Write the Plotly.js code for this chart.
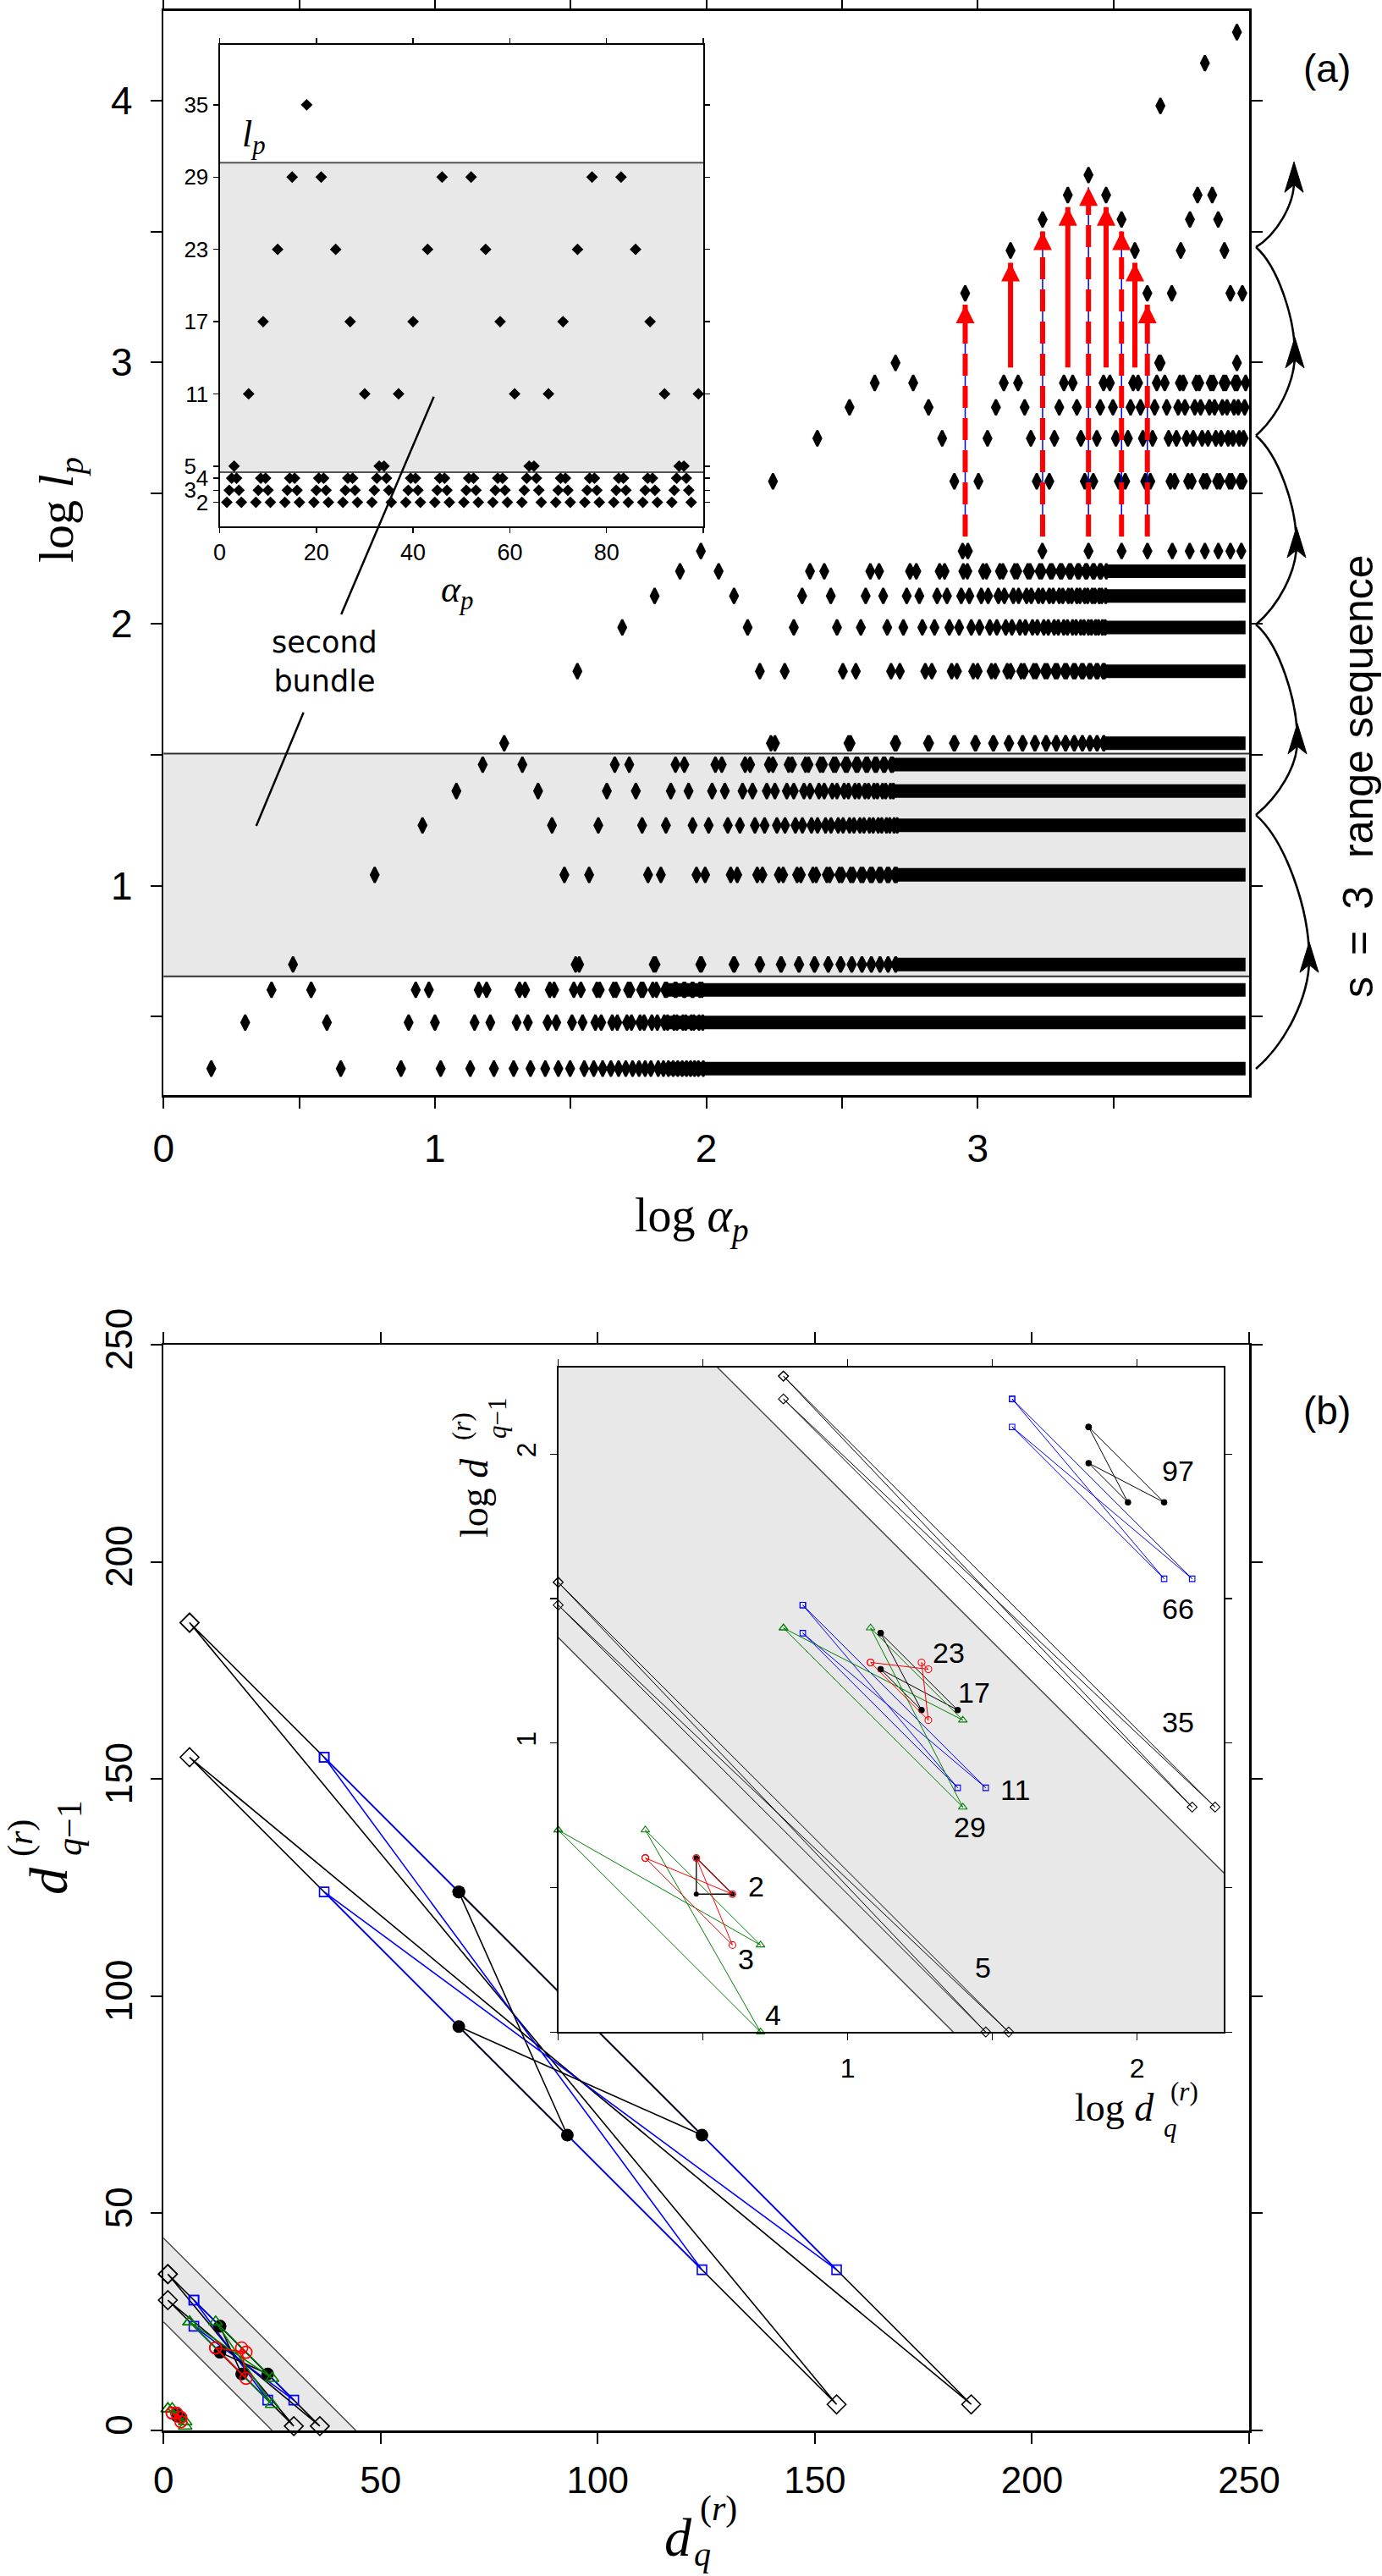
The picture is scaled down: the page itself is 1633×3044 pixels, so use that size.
<!DOCTYPE html>
<html><head><meta charset="utf-8">
<script src="https://cdn.plot.ly/plotly-3.0.1.min.js"></script>
<style>body{margin:0;background:#fff}</style>
</head><body>
<div id="chart" style="width:1633px;height:3044px"></div>
<script>
// ---------------- Panel (a): positions alpha_p of the diamonds for each level l_p ----------------
const alpha_l2 = [1.5,4.5,7.5,10.5,13.5,16.5,19.5,22.5,25.5,28.5,31.5,35.5,38.5,41.5,44.5,47.5,50.5,53.5,56.5,59.5,62.5,66.5,69.5,72.5,75.5,78.5,81.5,84.5,87.5,90.5,93.5,97.5];
const alpha_l3 = [2,4,8,10,14,16,20,22,26,28,32,35,39,41,45,47,51,53,57,59,63,66,70,72,76,78,82,84,88,90,94,97];
const alpha_l4 = [2.5,3.5,8.5,9.5,14.5,15.5,20.5,21.5,26.5,27.5,32.5,34.5,39.5,40.5,45.5,46.5,51.5,52.5,57.5,58.5,63.5,65.5,70.5,71.5,76.5,77.5,82.5,83.5,88.5,89.5,94.5,96.5];
const alpha_l5 = [3,33,34,64,65,95,96,126,127,157,158,188,189,219,220,250,251,281,282,312,313,343,344,374,375,405,406,436,437,467,468,498,499];
const alpha_l11 = [6,30,37,61,68,92,99,123,130,154,161,185,192,216,223,247,254,278,285,309,316,340,347,371,378,402,409,433,440,464,471,495,502];
const alpha_l17 = [9,27,40,58,71,89,102,120,133,151,164,182,195,213,226,244,257,275,288,306,319,337,350,368,381,399,412,430,443,461,474,492,505];
const alpha_l23 = [12,24,43,55,74,86,105,117,136,148,167,179,198,210,229,241,260,272,291,303,322,334,353,365,384,396,415,427,446,458,477,489];
const alpha_l29 = [15,21,46,52,77,83,108,114,139,145,170,176,201,207,232,238,263,269,294,300,325,331,356,362,387,393,418,424,449,455,480,486];
const alpha_l35 = [18,173,179,334,340,495,501,656,662,817,823,978,984,1139,1145,1300,1306,1461,1467,1622,1628,1783,1789,1944,1950,2105,2111,2266,2272,2427,2433,2588,2594,2749,2755,2910,2916];
const alpha_l66 = [33.5,157.5,194.5,318.5,355.5,479.5,516.5,640.5,677.5,801.5,838.5,962.5,999.5,1123.5,1160.5,1284.5,1321.5,1445.5,1482.5,1606.5,1643.5,1767.5,1804.5,1928.5,1965.5,2089.5,2126.5,2250.5,2287.5,2411.5,2448.5,2572.5,2609.5,2733.5,2770.5,2894.5,2931.5];
const alpha_l97 = [49,142,210,303,371,464,532,625,693,786,854,947,1015,1108,1176,1269,1337,1430,1498,1591,1659,1752,1820,1913,1981,2074,2142,2235,2303,2396,2464,2557,2625,2718,2786,2879,2947];
const alpha_l128 = [64.5,126.5,225.5,287.5,386.5,448.5,547.5,609.5,708.5,770.5,869.5,931.5,1030.5,1092.5,1191.5,1253.5,1352.5,1414.5,1513.5,1575.5,1674.5,1736.5,1835.5,1897.5,1996.5,2058.5,2157.5,2219.5,2318.5,2380.5,2479.5,2541.5,2640.5,2702.5,2801.5,2863.5,2962.5];
const alpha_l159 = [80,111,241,272,402,433,563,594,724,755,885,916,1046,1077,1207,1238,1368,1399,1529,1560,1690,1721,1851,1882,2012,2043,2173,2204,2334,2365,2495,2526,2656,2687,2817,2848,2978];
const alpha_l190 = [95.5,880,920,1730,2560,3390,4220,5210,6040,6870,7700,8530,9360];
const alpha_l351 = [176,820,1006,1650,1836,2480,2666,3310,3496,4140,4326,5130,5316,5960,6146,6790,6976,7620,7806,8450,8636,9280,9466];
const alpha_l512 = [256.5,739.5,1086.5,1569.5,1916.5,2399.5,2746.5,3229.5,3576.5,4059.5,4406.5,5049.5,5396.5,5879.5,6226.5,6709.5,7056.5,7539.5,7886.5,8369.5,8716.5,9199.5,9546.5];
const alpha_l673 = [337,659,1167,1489,1997,2319,2827,3149,3657,3979,4487,4969,5477,5799,6307,6629,7137,7459,7967,8289,8797,9119,9627];
const alpha_l834 = [417.5,578.5,1247.5,1408.5,2077.5,2238.5,2907.5,3068.5,3737.5,3898.5,4567.5,4888.5,5557.5,5718.5,6387.5,6548.5,7217.5,7378.5,8047.5,8208.5,8877.5,9038.5,9707.5];
const alpha_l995 = [498,4660,4720,9016];
const alpha_l1835 = [899,4217,5190,8531,9441];
const alpha_l2675 = [1321,3793,5598,8110];
const alpha_l3515 = [1734,3388,6053,7691];
const alpha_l4355 = [2148,2972,6457,7311];
const alpha_l5195 = [2559];
const alpha_l9550 = [4710];
const alpha_l13905 = [6871];
const alpha_l18260 = [9016];

const levels = [2,3,4,5,11,17,23,29,35,66,97,128,159,190,351,512,673,834,995,1835,2675,3515,4355,5195,9550,13905,18260];
const levelAlphas = [alpha_l2,alpha_l3,alpha_l4,alpha_l5,alpha_l11,alpha_l17,alpha_l23,alpha_l29,alpha_l35,alpha_l66,alpha_l97,alpha_l128,alpha_l159,alpha_l190,alpha_l351,alpha_l512,alpha_l673,alpha_l834,alpha_l995,alpha_l1835,alpha_l2675,alpha_l3515,alpha_l4355,alpha_l5195,alpha_l9550,alpha_l13905,alpha_l18260];

// dense parts of the rows (merged diamonds)
const bandLevel = [2,3,4,5,11,17,23,29,35,66,97,128,159];
const bandStart = [72,72,72,499,502,505,489,486,2916,2931,2947,2962,2978];
const bandEnd   = [9700,9700,9700,9700,9700,9700,9700,9700,9700,9700,9700,9700,9700];

// shaded "second bundle" band
const shadeMain = [4.5, 32];
const shadeInset = [4.5, 30.2];

// red arrows
const dashAlpha = [899,1734,2559,3388,4217];
const dashFrom  = [216,216,216,216,216];
const dashTo    = [1660,3165,4670,3165,1660];
const solidAlpha = [1321,2148,2972,3793];
const solidFrom  = [955,955,955,955];
const solidTo    = [2400,3920,3920,2400];

// range-sequence braces (log l positions)
const braceCusp = [0.30,1.27,1.998,2.72,3.44];
const braceTip  = [0.785,1.62,2.37,3.095,3.766];

// ---------------- Panel (b): (d_q, d_{q-1}) cycles ----------------
const diaBigX = [6,155,6,186,6],   diaBigY = [186,6,155,6,186];
const sqBigX  = [37,124,37,155,37], sqBigY  = [155,37,124,37,155];
const cirBigX = [68,93,68,124,68],  cirBigY = [124,68,93,68,124];
const diaMidX = [1,30,1,36,1],      diaMidY = [36,1,30,1,36];
const sqMidX  = [7,24,7,30,7],      sqMidY  = [30,7,24,7,30];
const cirMidX = [13,18,13,24,13],   cirMidY = [24,13,18,13,24];
const redMidX = [12,19,18,19,12],   redMidY = [19,12,19,18,19];
const grnMidX = [6,25,12,25,6],     grnMidY = [25,6,25,12,25];
const cirSmX  = [3,3,4,3],          cirSmY  = [4,3,3,4];
const redSmX  = [2,4,3,4,2],        redSmY  = [4,2,4,3,4];
const grnSmX  = [1,5,2,5,1],        grnSmY  = [5,1,5,2,5];
const bandB   = [25, 44.3];          // linear band x+y in main (b)
const bandBlog = [1.365, 2.85];      // log band in inset (b)
const insetLabels = ['97','66','35','23','17','11','29','5','2','3','4'];
const insetLabelPos = [[1392,1738],[1392,1901],[1392,2035],[1121,1953],[1151,2000],[1199,2115],[1146,2159],[1161,2325],[893,2229],[881,2315],[914,2381]];

// ---------------- geometry ----------------
const W = 1633, H = 3044;
const A_X=[193.2,1476], A_Y=[12.5,1294];
const AI_X=[259.5,831], AI_Y=[52.7,622];
const B_X=[193.2,1476], B_Y=[1589,2872];
const BI_X=[659.6,1446.2], BI_Y=[1615.7,2401.2];
const dx = a => [a[0]/W, a[1]/W];
const dy = a => [1-a[1]/H, 1-a[0]/H];
const SANS = 'Liberation Sans, Arial, sans-serif';
const SERIF = 'Liberation Serif, Times New Roman, serif';

const axBase = {showgrid:false, zeroline:false, showline:true, linecolor:'#000', mirror:'allticks',
  ticks:'outside', tickcolor:'#000', color:'#000', fixedrange:true};

const data = [];
const none = {hoverinfo:'skip', showlegend:false};

// ---- panel (a) main ----
data.push(Object.assign({x:[1,10000,10000,1], y:[shadeMain[0],shadeMain[0],shadeMain[1],shadeMain[1]], xaxis:'x', yaxis:'y',
  mode:'none', fill:'toself', fillcolor:'#e8e8e8'}, none));
data.push(Object.assign({x:[1,10000,null,1,10000], y:[shadeMain[0],shadeMain[0],null,shadeMain[1],shadeMain[1]], xaxis:'x', yaxis:'y',
  mode:'lines', line:{color:'#333', width:2}}, none));
{
  const bx=[], by=[];
  bandLevel.forEach((l,i)=>{bx.push(bandStart[i],bandEnd[i],null); by.push(l,l,null);});
  data.push(Object.assign({x:bx, y:by, xaxis:'x', yaxis:'y', mode:'lines', line:{color:'#000', width:16}}, none));
}
const ax=[], ay=[], ix=[], iy=[];
levels.forEach((l,i)=>levelAlphas[i].forEach(a=>{ax.push(a); ay.push(l); if(a<=100 && l<=40){ix.push(a); iy.push(l);}}));
data.push(Object.assign({x:ax, y:ay, xaxis:'x', yaxis:'y', mode:'markers', cliponaxis:false,
  marker:{symbol:'diamond-tall', size:13, color:'#000', line:{color:'#000', width:2.5}}}, none));
{
  const bxl=[], byl=[], sx=[], sy=[];
  dashAlpha.forEach((a,i)=>{bxl.push(a,a,null); byl.push(dashFrom[i],dashTo[i],null);});
  solidAlpha.forEach((a,i)=>{sx.push(a,a,null); sy.push(solidFrom[i],solidTo[i],null);});
  data.push(Object.assign({x:bxl, y:byl, xaxis:'x', yaxis:'y', mode:'lines', line:{color:'#0000ff', width:1.5}}, none));
  data.push(Object.assign({x:bxl, y:byl, xaxis:'x', yaxis:'y', mode:'lines', line:{color:'#ff0000', width:6, dash:'26px,12px'}}, none));
  data.push(Object.assign({x:sx, y:sy, xaxis:'x', yaxis:'y', mode:'lines', line:{color:'#ff0000', width:6}}, none));
  data.push(Object.assign({x:dashAlpha.concat(solidAlpha), y:dashTo.concat(solidTo), xaxis:'x', yaxis:'y', mode:'markers', cliponaxis:false,
    marker:{symbol:'arrow-up', size:22, color:'#ff0000', line:{width:0}}}, none));
}
// ---- panel (a) inset ----
data.push(Object.assign({x:[0,100,100,0], y:[shadeInset[0],shadeInset[0],shadeInset[1],shadeInset[1]], xaxis:'x2', yaxis:'y2',
  mode:'none', fill:'toself', fillcolor:'#e8e8e8'}, none));
data.push(Object.assign({x:[0,100,null,0,100], y:[shadeInset[0],shadeInset[0],null,shadeInset[1],shadeInset[1]], xaxis:'x2', yaxis:'y2',
  mode:'lines', line:{color:'#555', width:2}}, none));
data.push(Object.assign({x:ix, y:iy, xaxis:'x2', yaxis:'y2', mode:'markers', cliponaxis:false,
  marker:{symbol:'diamond', size:9, color:'#000', line:{color:'#000', width:1.5}}}, none));

// ---- panel (b) main + inset ----
function bandTraces(xa, ya, lo, hi, isLog){
  let poly, e1, e2;
  if(!isLog){
    poly = {x:[0,0,hi,lo], y:[lo,hi,0,0]};
    e1 = {x:[0,hi], y:[hi,0]}; e2 = {x:[0,lo], y:[lo,0]};
  } else {
    const top = 2.3, p = v=>Math.pow(10,v);
    poly = {x:[1,1,p(hi-top),p(top),p(top),p(lo)], y:[p(lo),p(top),p(top),p(hi-top),1,1]};
    e1 = {x:[p(hi-top),p(top)], y:[p(top),p(hi-top)]}; e2 = {x:[1,p(lo)], y:[p(lo),1]};
  }
  return [
    Object.assign({x:poly.x, y:poly.y, xaxis:xa, yaxis:ya, mode:'none', fill:'toself', fillcolor:'#e8e8e8'}, none),
    Object.assign({x:e1.x.concat([null]).concat(e2.x), y:e1.y.concat([null]).concat(e2.y), xaxis:xa, yaxis:ya, mode:'lines', line:{color:'#444', width:1.4}}, none)
  ];
}
function cyc(X, Y, xa, ya, sym, col, size, lw, mlw, filled){
  return Object.assign({x:X, y:Y, xaxis:xa, yaxis:ya, mode:'lines+markers', cliponaxis:false,
    line:{color:col, width:lw},
    marker:{symbol:sym, size:size, color:col, line:{color:col, width:filled?0:mlw}}}, none);
}
function cycleSet(xa, ya, big){
  const s = big ? {dia:17, sq:11, cir:15, red:14, grn:14, lw:1.6, mlw:1.6} : {dia:9, sq:6.5, cir:7.5, red:8, grn:9, lw:1, mlw:1.1};
  return [
    cyc(diaBigX, diaBigY, xa, ya, 'diamond-open', '#000', s.dia, s.lw, s.mlw),
    cyc(diaMidX, diaMidY, xa, ya, 'diamond-open', '#000', s.dia, s.lw, s.mlw),
    cyc(sqBigX, sqBigY, xa, ya, 'square-open', '#0000ff', s.sq, s.lw, s.mlw),
    cyc(sqMidX, sqMidY, xa, ya, 'square-open', '#0000ff', s.sq, s.lw, s.mlw),
    cyc(cirBigX, cirBigY, xa, ya, 'circle', '#000', s.cir, s.lw, s.mlw, true),
    cyc(cirMidX, cirMidY, xa, ya, 'circle', '#000', s.cir, s.lw, s.mlw, true),
    cyc(cirSmX, cirSmY, xa, ya, 'circle', '#000', s.cir*0.8, s.lw*1.3, s.mlw, true),
    cyc(grnMidX, grnMidY, xa, ya, 'triangle-up-open', '#008000', s.grn, s.lw, s.mlw),
    cyc(grnSmX, grnSmY, xa, ya, 'triangle-up-open', '#008000', s.grn, s.lw, s.mlw),
    cyc(redMidX, redMidY, xa, ya, 'circle-open', '#ff0000', s.red, s.lw, s.mlw),
    cyc(redSmX, redSmY, xa, ya, 'circle-open', '#ff0000', s.red, s.lw, s.mlw)
  ];
}
bandTraces('x3','y3',bandB[0],bandB[1],false).forEach(t=>data.push(t));
cycleSet('x3','y3',true).forEach(t=>data.push(t));
bandTraces('x4','y4',bandBlog[0],bandBlog[1],true).forEach(t=>data.push(t));
cycleSet('x4','y4',false).forEach(t=>data.push(t));

// ---------------- layout ----------------
const r5 = Math.sqrt(10);
const layout = {
  width:W, height:H, margin:{l:0,r:0,t:0,b:0}, paper_bgcolor:'#fff', plot_bgcolor:'#fff', showlegend:false,
  font:{family:SANS, color:'#000'},
  xaxis: Object.assign({}, axBase, {domain:dx(A_X), anchor:'y', type:'log', range:[0,4], tickmode:'array',
    tickvals:[1,r5,10,10*r5,100,100*r5,1000,1000*r5], ticktext:['0','','1','','2','','3',''],
    linewidth:2.5, ticklen:13, tickwidth:2, tickfont:{size:46, family:SANS}, ticklabelstandoff:8}),
  yaxis: Object.assign({}, axBase, {domain:dy(A_Y), anchor:'x', type:'log', range:[0.2,4.344], tickmode:'array',
    tickvals:[r5,10,10*r5,100,100*r5,1000,1000*r5,10000], ticktext:['','1','','2','','3','','4'],
    linewidth:2.5, ticklen:13, tickwidth:2, tickfont:{size:46, family:SANS}, ticklabelstandoff:12}),
  xaxis2: Object.assign({}, axBase, {domain:dx(AI_X), anchor:'y2', range:[0,100], tickmode:'array',
    tickvals:[0,20,40,60,80,100], ticktext:['0','20','40','60','80',''], linewidth:2, ticklen:6, tickwidth:1.5, tickfont:{size:27}}),
  yaxis2: Object.assign({}, axBase, {domain:dy(AI_Y), anchor:'x2', range:[0,40], tickmode:'array',
    tickvals:[2,3,4,5,11,17,23,29,35], ticktext:['2','3\u00a0\u00a0','4','5\u00a0\u00a0','11','17','23','29','35'],
    linewidth:2, ticklen:6, tickwidth:1.5, tickfont:{size:26}}),
  xaxis3: Object.assign({}, axBase, {domain:dx(B_X), anchor:'y3', range:[0,250], tickmode:'array', tickvals:[0,50,100,150,200,250],
    linewidth:2.5, ticklen:13, tickwidth:2, tickfont:{size:44}, ticklabelstandoff:6}),
  yaxis3: Object.assign({}, axBase, {domain:dy(B_Y), anchor:'x3', range:[0,250], tickmode:'array', tickvals:[0,50,100,150,200,250],
    tickangle:-90, linewidth:2.5, ticklen:13, tickwidth:2, tickfont:{size:44}, ticklabelstandoff:4}),
  xaxis4: Object.assign({}, axBase, {domain:dx(BI_X), anchor:'y4', type:'log', range:[0,2.3], tickmode:'array',
    tickvals:[1,r5,10,10*r5,100], ticktext:['','','1','','2'], linewidth:1.5, ticklen:8, tickwidth:1.2, tickfont:{size:32}, ticklabelstandoff:6}),
  yaxis4: Object.assign({}, axBase, {domain:dy(BI_Y), anchor:'x4', type:'log', range:[0,2.3], tickmode:'array',
    tickvals:[1,r5,10,10*r5,100], ticktext:['','','1','','2'], tickangle:-90, linewidth:1.5, ticklen:8, tickwidth:1.2, tickfont:{size:32}, ticklabelstandoff:4}),
  shapes:[], annotations:[]
};

const P = (x,y) => (x/W).toFixed(5)+','+(1-y/H).toFixed(5);
const vToPy = v => A_Y[0] + (4.344 - v)/(4.344-0.2)*(A_Y[1]-A_Y[0]);
const cuspX = 1484, bulgeX = [1547,1533,1532,1530,1529];
const lineSh = (x0,y0,x1,y1,w,c) => ({type:'line', xref:'paper', yref:'paper', x0:x0/W, y0:1-y0/H, x1:x1/W, y1:1-y1/H, line:{color:c||'#000', width:w}, layer:'above'});
function arrowHead(x,y){
  return {type:'path', xref:'paper', yref:'paper', layer:'above', fillcolor:'#000', line:{color:'#000', width:1},
    path:`M ${P(x,y)} L ${P(x-11,y+36)} L ${P(x,y+27)} L ${P(x+11,y+36)} Z`};
}
for(let i=0;i<braceCusp.length;i++){
  const yA = vToPy(braceCusp[i]), xm = bulgeX[i], yT = vToPy(braceTip[i]), w = xm-cuspX;
  let path;
  if(i < braceCusp.length-1){
    const yB = vToPy(braceCusp[i+1]), h = yA-yB, yM = yT+20;
    path = `M ${P(cuspX,yA)} C ${P(cuspX+0.55*w,yA-0.1*h)} ${P(xm,yM+0.35*(yA-yM))} ${P(xm,yM)} C ${P(xm,yM-0.35*(yM-yB))} ${P(cuspX+0.55*w,yB+0.1*h)} ${P(cuspX,yB)}`;
  } else {
    const h = yA-yT;
    path = `M ${P(cuspX,yA)} C ${P(cuspX+0.55*w,yA-0.15*h)} ${P(xm,yT+0.5*h)} ${P(xm,yT+24)}`;
  }
  layout.shapes.push({type:'path', xref:'paper', yref:'paper', layer:'above', path:path, line:{color:'#000', width:2.6}});
  layout.shapes.push(arrowHead(xm, yT));
}
layout.shapes.push(lineSh(512.6,468.8,403.2,726,2.5));
layout.shapes.push(lineSh(358.6,842,302.8,976,2.5));

function ann(text,x,y,size,family,extra){
  return Object.assign({text:text, xref:'paper', yref:'paper', x:x/W, y:1-y/H, xanchor:'center', yanchor:'middle',
    showarrow:false, font:{size:size, family:family, color:'#000'}}, extra||{});
}
const A = layout.annotations;
A.push(ann('(a)',1568,81,46,SANS));
A.push(ann('(b)',1568,1667,46,SANS));
A.push(ann('range sequence',1605,835,50,SANS,{textangle:-90}));
A.push(ann('s\u2002=\u20023',1605,1113,50,SANS,{textangle:-90}));
A.push(ann('second<br>bundle',383,782,35,'DejaVu Sans'));
A.push(ann('log <i>l</i><sub><i>p</i></sub>',70,603,58,SERIF,{textangle:-90}));
A.push(ann('log <i>α</i><sub><i>p</i></sub>',818,1440,56,SERIF));
A.push(ann('<i>l</i><sub><i>p</i></sub>',300,162,44,SERIF));
A.push(ann('<i>α</i><sub><i>p</i></sub>',540,700,44,SERIF));
// main (b) titles (stacked sub/superscripts)
A.push(ann('<i>d</i>',801,2998,64,SERIF));
A.push(ann('(<i>r</i>)',849,2964,42,SERIF));
A.push(ann('<i>q</i>',830,3018,40,SERIF));
A.push(ann('<i>d</i>',57,2223,64,SERIF,{textangle:-90}));
A.push(ann('(<i>r</i>)',24,2172,42,SERIF,{textangle:-90}));
A.push(ann('<i>q</i>−1',82,2160,42,SERIF,{textangle:-90}));
// inset (b) titles
A.push(ann('log <i>d</i>',1317,2490,46,SERIF));
A.push(ann('(<i>r</i>)',1399,2471,31,SERIF));
A.push(ann('<i>q</i>',1383,2514,31,SERIF));
A.push(ann('log <i>d</i>',560,1770,46,SERIF,{textangle:-90}));
A.push(ann('(<i>r</i>)',546,1686,31,SERIF,{textangle:-90}));
A.push(ann('<i>q</i>−1',588,1676,31,SERIF,{textangle:-90}));
insetLabels.forEach((t,i)=>A.push(ann(t,insetLabelPos[i][0],insetLabelPos[i][1],34,SANS)));

Plotly.newPlot('chart', data, layout, {staticPlot:true, displayModeBar:false});
</script>
</body></html>
